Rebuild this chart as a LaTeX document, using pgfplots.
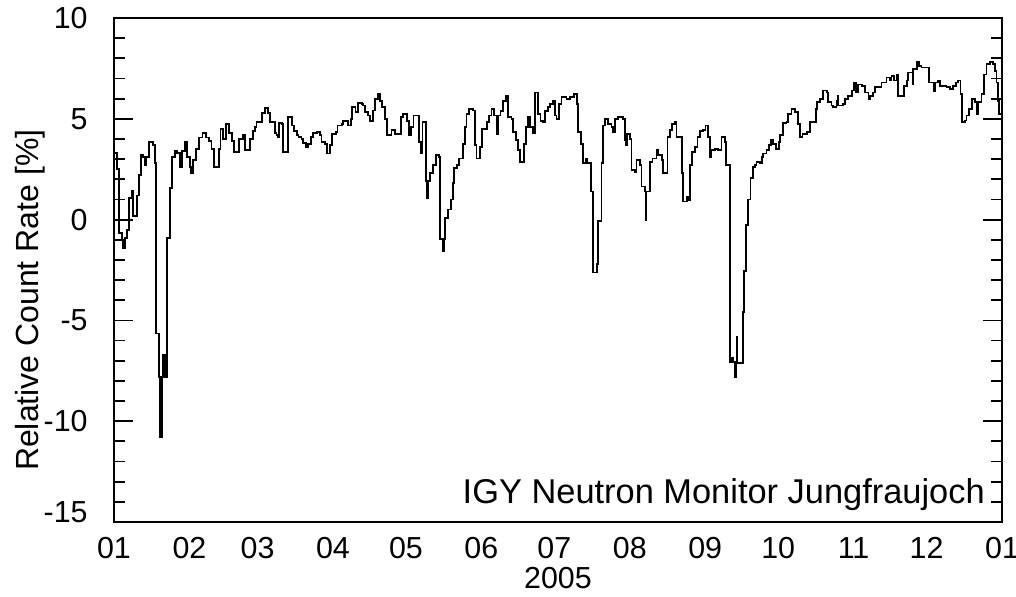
\documentclass[border=0pt]{standalone}
\usepackage{pgfplots}
\pgfplotsset{compat=1.18}
\usepackage{fontspec}
\setmainfont{Liberation Sans}
\begin{document}
\begin{tikzpicture}
\begin{axis}[
  scale only axis,
  width=444pt, height=252pt,
  xmin=0, xmax=365, ymin=-15, ymax=10,
  axis line style={line width=0.9pt},
  font=\fontsize{15.2}{18}\selectfont,
  xtick={0,31,59,90,120,151,181,212,243,273,304,334,365},
  xticklabels={01,02,03,04,05,06,07,08,09,10,11,12,01},
  xtick style={draw=none},
  minor xtick={0,31,59,90,120,151,181,212,243,273,304,334,365},
  ytick={-15,-10,-5,0,5,10},
  yticklabels={\smash{-15},-10,-5,0,5,10},
  minor y tick num=4,
  major tick length=9.5pt, minor tick length=5.5pt,
  every tick/.style={line width=0.9pt, black},
  xtick pos=both, ytick pos=both,
  xticklabel pos=lower, yticklabel pos=left,
  xticklabel style={inner sep=0pt, yshift=-7.5pt},
  yticklabel style={inner sep=0pt, xshift=-13pt},
  xlabel={2005},
  xlabel style={at={(axis description cs:0.5,0)}, anchor=north, inner sep=0pt, yshift=-22.5pt},
  ylabel={Relative Count Rate [\%]},
  ylabel style={at={(axis description cs:-0.0946,0.44)}, anchor=center, font=\fontsize{16}{19}\selectfont},
]
\addplot[const plot, black, line width=0.9pt] coordinates {
(0,3.3)(1.1,2.5)(2.2,-0.65)(3.3,-1.0)(3.8,-1.4)(4.5,-0.9)(5.5,-0.5)(6.3,1.07)(7.3,1.4)(7.9,0.16)
(9.3,1.2)(10.4,2.2)(11,3.2)(12,3.1)(12.6,2.7)(13.2,3.1)(14.5,3.85)(15.9,3.7)(16.8,2.8)(17.3,-5.65)
(18.6,-7.8)(19.0,-10.8)(19.6,-7.8)(20.3,-6.7)(21.0,-7.8)(21.9,-0.9)(23,1.56)(23.8,3.1)(25,3.4)(25.8,3.3)
(27.2,2.6)(27.8,3.4)(29.2,3.85)(30.1,3.1)(31.2,2.6)(31.7,2.3)(32.6,2.95)(33.7,3.5)(35,4.07)(36.4,4.3)
(37.8,4.07)(39.2,3.9)(40.1,3.5)(41.1,2.6)(43.3,3.5)(43.8,4.5)(44.9,4.0)(46,4.75)(47.4,4.3)(48.4,3.9)
(49.3,3.36)(51.5,4.0)(52.9,4.2)(53.8,3.44)(55.9,4.0)(57,4.4)(57.9,4.6)(58.6,4.84)(60.7,5.3)(62,5.55)
(63.4,5.3)(64.1,4.84)(66.2,4.3)(66.8,4.2)(67.5,4.1)(67.8,4.8)(68.9,4.75)(69.6,3.36)(71.6,5.1)(73,4.67)
(74.1,4.4)(75.1,4.2)(75.8,4.1)(77.1,4.0)(77.8,3.8)(78.8,3.6)(79.9,3.77)(80.9,4.1)(81.9,4.3)(83.3,4.34)
(84.7,4.2)(85.3,3.85)(86.7,3.77)(87.4,3.28)(88.8,3.7)(89.5,4.26)(91.1,4.34)(91.9,4.67)(93.6,4.75)(94.2,4.9)
(96.3,4.67)(97.4,5.0)(97.9,5.57)(99.3,5.33)(100.4,5.8)(101.8,5.74)(102.5,5.66)(103.2,5.33)(104.5,5.16)(105.2,4.9)
(106.6,5.41)(107.3,6.0)(108.6,6.23)(109.3,5.9)(110.3,5.57)(111.4,5.0)(112.1,4.2)(114.1,4.43)(115.5,4.26)(118,5.08)
(118.9,5.25)(120.3,4.9)(121.3,4.2)(122.1,4.6)(123.1,5.16)(125.2,3.85)(126.3,3.28)(126.8,4.84)(128.2,1.9)(128.6,1.07)
(129.2,1.9)(129.9,2.3)(131,2.7)(132.3,3.2)(133.7,3.1)(134,-0.98)(135,-1.56)(135.6,-0.98)(136,0.08)(137.4,0.5)
(138.4,1.0)(139.2,1.8)(139.9,2.54)(141.1,2.7)(141.9,3.03)(143.3,3.77)(144.2,4.6)(144.9,5.25)(146,5.5)(147.7,5.41)
(148.4,3.7)(149,3.03)(150.4,3.6)(151.1,4.5)(153.2,4.84)(154.2,5.16)(155.2,5.5)(156.2,5.16)(157.3,4.26)(157.9,5.16)
(158.9,5.4)(160,5.9)(161.1,6.15)(162,5.1)(163.4,5.0)(164.1,4.34)(165.2,3.93)(166.2,3.44)(166.8,2.87)(168.5,3.77)
(169.3,4.6)(170.3,5.1)(171,4.6)(172.3,4.3)(173,6.3)(174.4,5.25)(175.3,4.9)(176.4,4.84)(177.1,5.4)(178.5,5.57)
(179.2,5.74)(180.5,5.9)(181.2,5.16)(181.9,5.0)(183,5.74)(183.9,6.07)(186,5.98)(187.4,6.07)(189,6.23)(190.2,5.74)
(190.8,4.34)(191.9,3.77)(192.9,2.79)(193.9,3.03)(194.5,2.79)(196,1.39)(197,-2.62)(198.4,-2.2)(199,-0.08)(200.4,2.79)
(201.1,4.67)(201.8,5.0)(203.2,4.75)(204.5,4.59)(205.1,4.34)(205.9,5.0)(207,5.08)(209.3,5.0)(209.9,3.93)(210.3,3.69)
(210.7,4.26)(212,4.0)(212.7,2.46)(214.1,2.38)(214.8,2.95)(216.2,2.7)(216.8,1.64)(218.2,1.39)(218.5,0.0)(218.9,1.39)
(220.3,2.87)(221.3,3.03)(223,3.44)(223.7,3.2)(225.1,2.95)(225.8,2.3)(227.5,4.1)(228.5,4.43)(229.5,4.75)(230.5,4.84)
(231.2,4.1)(233.5,2.3)(234,0.9)(235.4,1.15)(236,0.98)(236.7,2.7)(237.7,3.36)(238.7,3.6)(239.8,4.1)(240.8,4.4)
(242.2,4.46)(243.1,4.67)(244.3,4.1)(245,3.1)(245.6,3.44)(247,3.52)(248.4,3.44)(249.7,4.1)(251,3.85)(251.7,2.7)
(253.1,-7.05)(254,-6.85)(254.5,-7.05)(255.2,-7.8)(255.6,-7.05)(255.9,-5.8)(256.3,-7.1)(258.4,-4.6)(258.9,-2.54)(259.7,-0.25)
(260.7,1.0)(261.6,2.05)(262.5,2.6)(263.5,2.7)(264.1,2.87)(265.4,2.79)(266.2,3.1)(266.8,3.28)(268.2,3.44)(269.3,3.7)
(269.9,3.93)(270.9,3.77)(272,3.52)(273.4,3.85)(273.9,4.2)(275.1,4.8)(276.4,4.84)(277.1,5.25)(278.5,5.5)(279.9,5.33)
(281.2,4.75)(281.9,4.1)(283,4.26)(284.7,4.34)(286,4.84)(288.5,5.5)(289,5.82)(290.1,5.98)(291.5,6.4)(292.9,6.3)
(293.6,5.82)(294.9,5.66)(295.6,5.57)(297,5.9)(297.5,6.15)(297.7,5.66)(299.7,5.74)(300.4,6.0)(301.8,6.15)(303.2,6.4)
(304.2,6.8)(305,6.3)(305.9,6.7)(307.3,6.64)(308.7,6.3)(310.1,6.0)(310.8,6.15)(312.1,6.3)(312.8,6.56)(315.5,6.8)
(317.5,7.05)(318.9,6.9)(319.6,7.13)(320.5,6.9)(321.6,7.2)(322.3,6.15)(324.7,6.64)(325.8,6.9)(326.4,7.3)(328.2,6.7)
(328.5,7.46)(329.9,7.8)(331,7.62)(331.9,7.54)(335.1,6.8)(337.1,6.39)(337.4,6.8)(338.8,6.89)(339.5,6.64)(342.2,6.56)
(343.5,6.48)(344.9,6.64)(346,6.8)(346.9,6.9)(347.9,6.23)(348.4,4.84)(349.7,4.92)(350.4,5.16)(351.5,5.5)(352.5,6.0)
(353.8,5.82)(354.5,5.25)(355.2,5.82)(356.6,6.23)(357.5,7.2)(358.6,7.7)(360,7.8)(361.4,7.7)(362,7.38)(362.7,6.8)
(363.4,5.9)(363.8,5.25)(365,5.25)
};
\node[anchor=east, inner sep=0pt, font=\fontsize{17.2}{20}\selectfont] at (axis description cs:0.981,0.055) {IGY Neutron Monitor Jungfraujoch};
\end{axis}
\pgfresetboundingbox
\path[use as bounding box] (-57pt,-37pt) rectangle (451pt,261pt);
\end{tikzpicture}
\end{document}
